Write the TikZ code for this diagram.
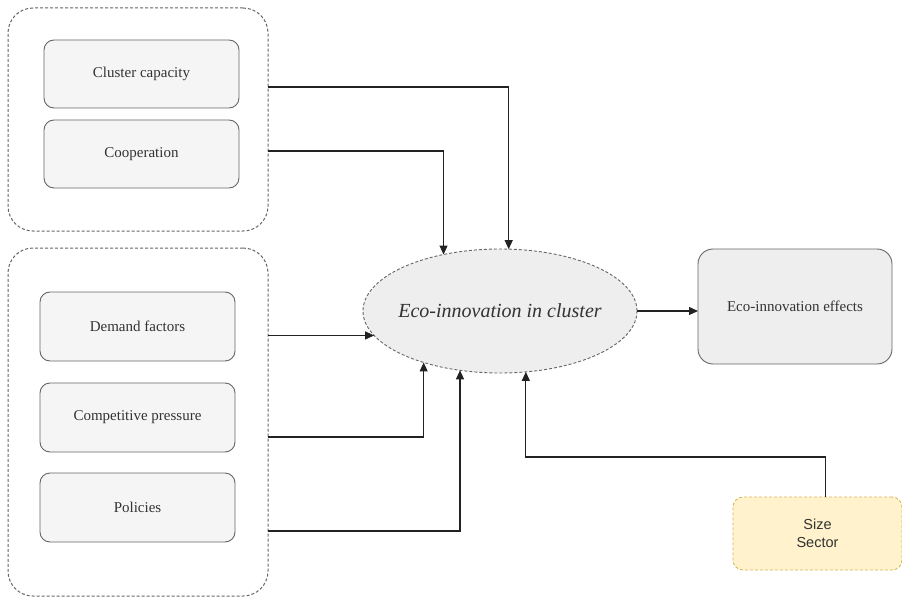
\documentclass[tikz,border=0pt]{standalone}
\usepackage{fontspec}
\setmainfont{Liberation Serif}
\newfontfamily\sansfont{Liberation Sans}
\usepackage{xcolor}
\usepackage{tikz}
\usetikzlibrary{arrows.meta,shapes.geometric}
\definecolor{lineg}{HTML}{222222}
\definecolor{boxline}{HTML}{666666}
\definecolor{boxfill}{HTML}{F5F5F5}
\definecolor{ecofill}{HTML}{EEEEEE}
\definecolor{ctrlline}{HTML}{D6B656}
\definecolor{ctrlfill}{HTML}{FFF2CC}
\definecolor{txt}{HTML}{333333}

\begin{document}
\begin{tikzpicture}[
  x=1pt,y=-1pt,
  font=\fontsize{15}{18}\selectfont,text=txt,
  grp/.style={rectangle,rounded corners=25pt,draw=boxline,dash pattern=on 3pt off 2pt,
              fill=white,line width=1pt,inner sep=0pt,outer sep=0pt},
  fac/.style={rectangle,rounded corners=10pt,draw=boxline,fill=boxfill,line width=0.9pt,
              minimum width=195pt,minimum height=68pt,inner sep=0pt,outer sep=0pt},
  eco/.style={ellipse,draw=boxline,dash pattern=on 3pt off 2pt,fill=ecofill,line width=0.9pt,
              minimum width=274pt,minimum height=124pt,inner xsep=-6pt,inner ysep=0pt,
              outer sep=0pt,font=\fontsize{20}{24}\selectfont\itshape},
  res/.style={rectangle,rounded corners=15pt,draw=boxline,fill=ecofill,line width=0.9pt,
              minimum width=194pt,minimum height=115pt,inner sep=0pt,outer sep=0pt},
  ctl/.style={rectangle,rounded corners=10pt,draw=ctrlline,dash pattern=on 3pt off 2pt,
              fill=ctrlfill,line width=0.9pt,minimum width=169pt,minimum height=73pt,
              inner sep=0pt,outer sep=0pt,align=center,
              font=\sansfont\fontsize{14.5}{18}\selectfont},
  arr/.style={draw=lineg,line width=1.1pt,-{Triangle[length=9pt,width=8pt]}}]

\useasboundingbox (0,0) rectangle (902,599);

% ================= group A: cluster factors =================
\node[grp,minimum width=260pt,minimum height=223pt](grpA) at (138,119.5){};
\node[fac](cap)  at (141.5,74){Cluster capacity};
\node[fac](coop) at (141.5,154){Cooperation};

% ================= group B: external factors =================
\node[grp,minimum width=260pt,minimum height=348pt](grpB) at (138,422){};
\node[fac,minimum height=69pt](dem)  at (137.5,326.5){Demand factors};
\node[fac,minimum height=69pt](comp) at (137.5,417.5){Competitive pressure};
\node[fac,minimum height=69pt](pol)  at (137.5,507.5){Policies};

% ================= centre, outcome, controls =================
\node[eco](eco) at (500,311){Eco-innovation in cluster};
\node[res](eff) at (795,306.5){Eco-innovation effects};
\node[ctl](ctrl) at (817.5,533.5){Size\\Sector};

% ================= connectors =================
\coordinate (a1) at (268,87);
\coordinate (a2) at (268,151);
\coordinate (b2) at (268,437);
\coordinate (b3) at (268,531);
\draw[arr] (a1) -| (eco.82.6);
\draw[arr] (a2) -| (eco.135.3);
\draw[arr] (eco.191.3 -| grpB.east) -- (eco.191.3);
\draw[arr] (b2) -| (eco.214.2);
\draw[arr] (b3) -| (eco.236);
\draw[arr] (eco.east) -- (eco.east -| eff.west);
\draw[arr] ([xshift=8pt]ctrl.north) -- ++(0,-40) -| (eco.293.1);
\end{tikzpicture}
\end{document}
